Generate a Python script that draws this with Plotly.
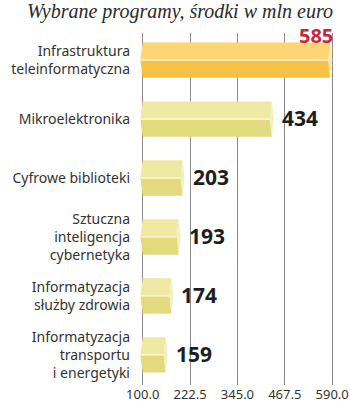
import plotly.graph_objects as go

categories = [
    "Infrastruktura<br>teleinformatyczna",
    "Mikroelektronika",
    "Cyfrowe biblioteki",
    "Sztuczna<br>inteligencja<br>cybernetyka",
    "Informatyzacja<br>służby zdrowia",
    "Informatyzacja<br>transportu<br>i energetyki",
]
values = [585, 434, 203, 193, 174, 159]
tick_vals = [100.0, 222.5, 345.0, 467.5, 590.0]
tick_text = ["100.0", "222.5", "345.0", "467.5", "590.0"]
title = "Wybrane programy, środki w mln euro"

BASE = 100.0
D = 15.5      # depth of pointed end in data units
H = 0.30      # half height of bar in row units

fig = go.Figure()
for i, (cat, v) in enumerate(zip(categories, values)):
    c = i
    if i == 0:
        top_col, bot_col, cap_col = "#FDD673", "#F6C245", "#FCE7B2"
    else:
        top_col, bot_col, cap_col = "#EFE9A3", "#E3DA7E", "#F3EFC4"
    fig.add_trace(go.Scatter(
        x=[BASE - D * 0.4, BASE, v, v - D * 0.3, BASE - D * 0.4],
        y=[c, c - H, c - H, c, c],
        fill="toself", fillcolor=top_col, mode="lines",
        line=dict(width=0), hoverinfo="skip", showlegend=False))
    fig.add_trace(go.Scatter(
        x=[BASE - D * 0.4, BASE, v, v - D * 0.3, BASE - D * 0.4],
        y=[c, c + H, c + H, c, c],
        fill="toself", fillcolor=bot_col, mode="lines",
        line=dict(width=0), hoverinfo="skip", showlegend=False))
    fig.add_trace(go.Scatter(
        x=[v, v + D * 0.35, v, v - D * 0.3, v],
        y=[c - H, c, c + H, c, c - H],
        fill="toself", fillcolor=cap_col, mode="lines",
        line=dict(width=0), hoverinfo="skip", showlegend=False))
    fig.add_trace(go.Scatter(
        x=[BASE - D * 0.4, v - D * 0.3], y=[c, c], mode="lines",
        line=dict(width=1.2, color="rgba(255,255,240,0.9)"),
        hoverinfo="skip", showlegend=False))

annotations = []
for i, v in enumerate(values):
    if i == 0:
        annotations.append(dict(
            x=v, y=i - H, xref="x", yref="y", text=str(v), showarrow=False,
            xanchor="right", yanchor="bottom", yshift=-8, xshift=4, borderpad=0,
            font=dict(family="Open Sans", size=20, color="#C4283A", weight="bold")))
    else:
        annotations.append(dict(
            x=v, y=i, xref="x", yref="y", text=str(v), showarrow=False,
            xanchor="left", yanchor="middle", xshift=8, yshift=1,
            font=dict(family="Open Sans", size=21, color="#1E1E1E", weight="bold")))

annotations.append(dict(
    x=1.0, y=1.0, xref="paper", yref="paper", text=title, showarrow=False,
    xanchor="right", yanchor="middle", xshift=-2, yshift=22, borderpad=0,
    font=dict(family="Liberation Serif", size=20, color="#2A2A2A", style="italic")))

fig.update_layout(
    width=350, height=405,
    margin=dict(l=135, r=14, t=33, b=20, autoexpand=False),
    paper_bgcolor="white", plot_bgcolor="white",
    annotations=annotations,
    xaxis=dict(
        range=[80, 600], tickvals=tick_vals, ticktext=tick_text,
        showgrid=True, gridcolor="#8A8A8A", gridwidth=1.3,
        zeroline=False, showline=False, ticks="", automargin=False,
        tickfont=dict(family="Noto Sans", size=13, color="#333333"),
    ),
    yaxis=dict(
        range=[5.51, -0.46], tickvals=list(range(len(categories))),
        ticktext=categories, showgrid=False, zeroline=False, showline=False,
        ticks="", ticklabelstandoff=4, automargin=False,
        tickfont=dict(family="Noto Sans", size=14, color="#333333"),
    ),
)

fig.write_html("out.html")
